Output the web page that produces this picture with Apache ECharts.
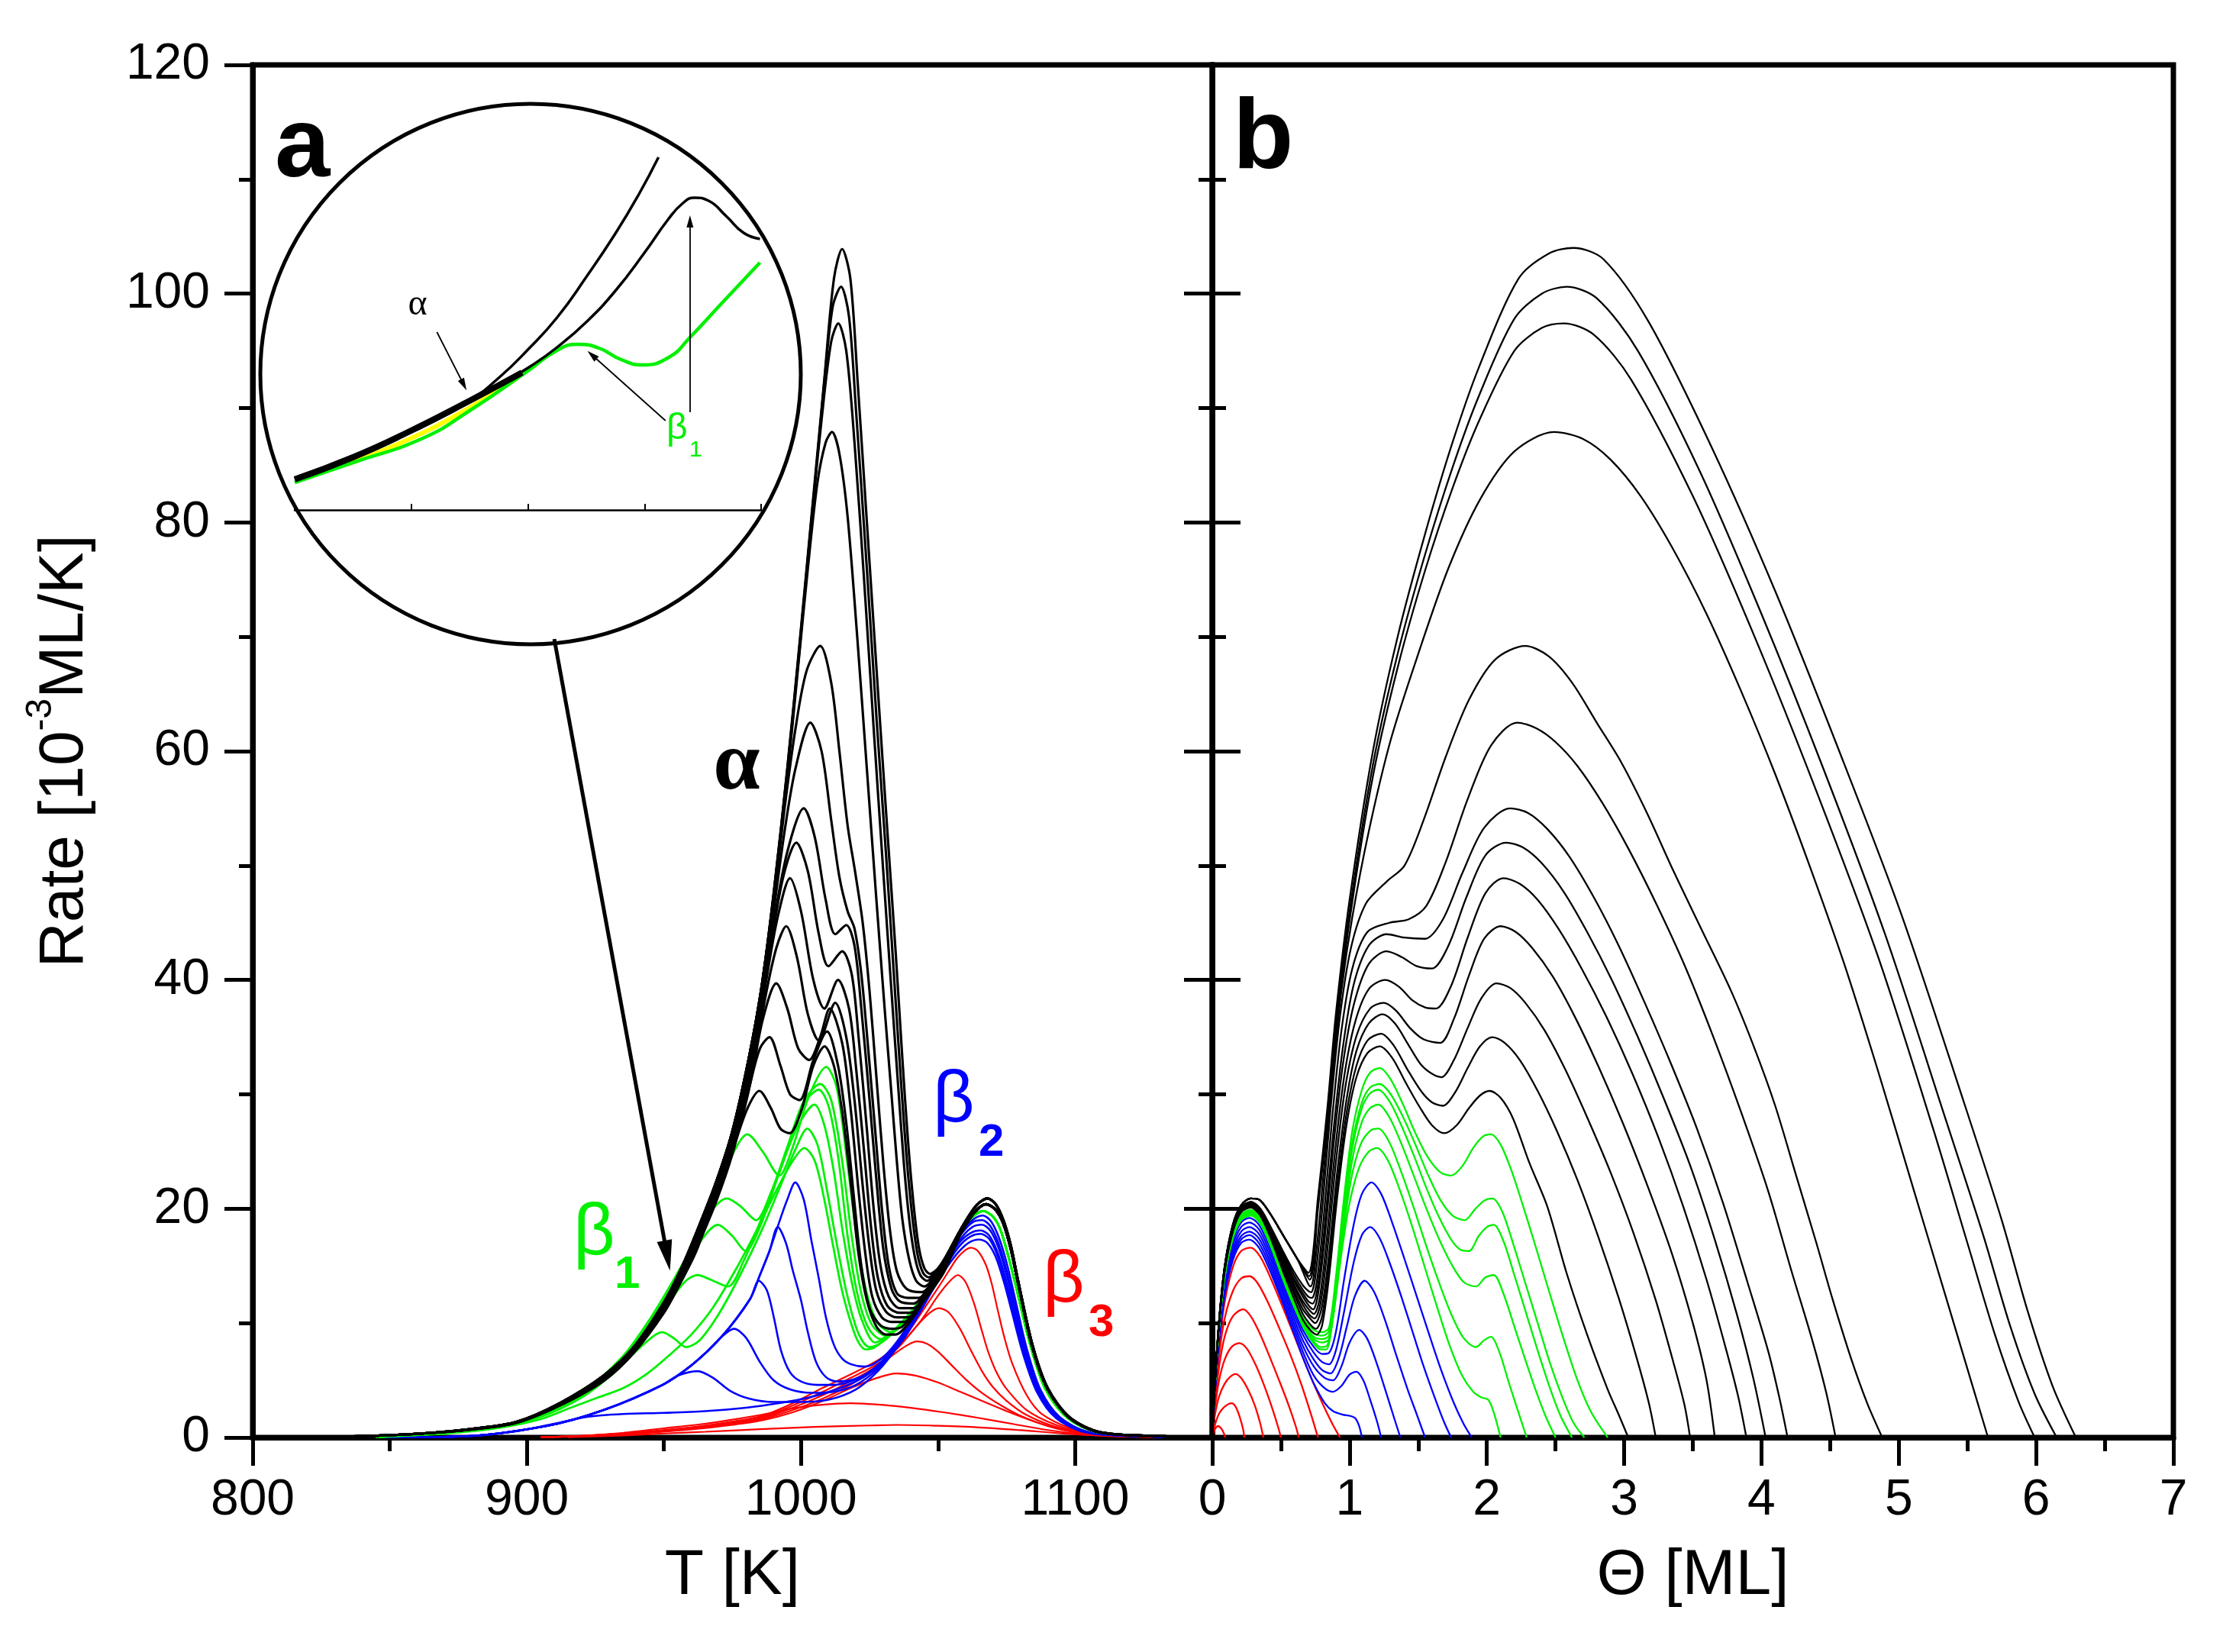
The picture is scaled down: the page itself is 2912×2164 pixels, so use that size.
<!DOCTYPE html>
<html><head><meta charset="utf-8">
<script src="https://cdn.jsdelivr.net/npm/echarts/dist/echarts.min.js"></script>
<style>html,body{margin:0;padding:0;background:#fff}#c{width:2912px;height:2164px}</style>
</head><body><div id="c"></div>
<script>
// ---------- Panel a : rate vs T [K] ----------
const A_R1 = [[915,0.03],[935,0.18],[950,0.35],[965,0.5],[985,0.72],[1005,0.92],[1025,1.05],[1035,1.1],[1050,1.02],[1065,0.88],[1080,0.64],[1095,0.36],[1110,0.16],[1130,0.05],[1150,0.01]];
const A_R2 = [[905,0.03],[920,0.15],[935,0.4],[950,0.8],[965,1.2],[976,1.6],[986,2.0],[997,2.55],[1007,2.85],[1018,3.0],[1030,2.85],[1040,2.6],[1052,2.2],[1065,1.7],[1078,1.15],[1090,0.65],[1100,0.35],[1112,0.12],[1130,0.04],[1150,0.01]];
const A_R3 = [[905,0.02],[920,0.12],[940,0.34],[960,0.7],[975,1.1],[986,1.5],[997,2.2],[1008,3.2],[1018,4.3],[1027,5.15],[1034.8,5.6],[1042,5.4],[1050,4.8],[1058,4.0],[1066,3.2],[1075,2.3],[1085,1.4],[1095,0.7],[1105,0.3],[1120,0.08],[1150,0.01]];
const A_R4 = [[905,0.02],[920,0.12],[940,0.36],[960,0.75],[975,1.15],[986,1.6],[997,2.4],[1008,3.4],[1018,4.6],[1027,6.0],[1034,7.3],[1039,8.1],[1042.3,8.4],[1046,8.2],[1050,7.5],[1055,6.3],[1060,5.1],[1066,3.9],[1073,2.8],[1080,1.9],[1090,1.0],[1100,0.45],[1115,0.12],[1150,0.01]];
const A_R5 = [[905,0.02],[920,0.13],[940,0.4],[960,0.8],[975,1.2],[986,1.7],[997,2.6],[1008,3.7],[1018,4.9],[1028,6.3],[1036,8.0],[1042,9.7],[1047,10.9],[1050.3,11.3],[1054,10.9],[1058,9.5],[1062,7.6],[1066,5.8],[1070,4.4],[1075,3.2],[1082,2.0],[1092,1.0],[1103,0.4],[1120,0.1],[1150,0.01]];
const A_R6 = [[905,0.02],[920,0.15],[940,0.42],[960,0.85],[975,1.3],[986,1.8],[997,2.8],[1008,4.0],[1018,5.2],[1029,6.6],[1037,8.3],[1044,10.3],[1050,12.4],[1054,13.6],[1057.2,14.2],[1060,13.6],[1063,11.8],[1066,9.3],[1068.4,7.4],[1071.5,5.6],[1074.8,4.3],[1082.3,2.4],[1093,1.1],[1103.6,0.45],[1120,0.1],[1150,0.01]];
const A_R7 = [[905,0.02],[920,0.15],[940,0.45],[960,0.9],[975,1.4],[986,1.9],[997,3.0],[1007.6,4.3],[1018,5.5],[1029,6.9],[1035,8.1],[1039.6,9.4],[1045,11.3],[1050.3,13.2],[1054,14.6],[1057,15.7],[1060,16.4],[1062,16.6],[1064.5,16.3],[1067.4,15.1],[1069.5,13.5],[1071.6,11.3],[1074,8.9],[1077,6.5],[1082.3,3.7],[1087.6,2.1],[1098.3,0.8],[1109,0.2],[1130,0.05],[1150,0.01]];

const A_BLUE_EDGE = [[845,0.02],[875,0.08],[907,1.0],[928,2.4],[949.5,4.6],[960,6.3],[971,8.8],[981.4,12.1]];
const A_B1 = [[845,0.02],[875,0.08],[895,0.5],[910,1.2],[922,1.8],[935,2.05],[950,2.15],[965,2.3],[980,2.6],[992,3.0],[1003,3.5],[1014,4.3],[1023,5.3],[1031,6.8],[1038,8.8],[1044,11.2],[1050,13.7],[1056,15.8],[1061,17.0],[1065,17.3],[1068,17.0],[1071,15.8],[1074,13.6],[1077,10.9],[1081,7.3],[1086,4.0],[1093,1.7],[1104,0.45],[1125,0.1],[1150,0.02]];
const A_B2 = A_BLUE_EDGE.slice(0,5).concat([[955,5.4],[962.3,5.8],[968,5.2],[974,4.1],[981,3.4],[990,3.1],[1000,3.1],[1010,3.3],[1020,4.2],[1028,5.8],[1035,7.9],[1041,10.2],[1047,12.8],[1053,15.1],[1058,16.8],[1062,17.6],[1065.5,17.8],[1068.5,17.4],[1071.5,16.0],[1074.5,13.7],[1077.5,10.9],[1081.5,7.2],[1086.5,3.9],[1093.5,1.65],[1104,0.45],[1125,0.1],[1150,0.02]]);
const A_B3 = A_BLUE_EDGE.slice(0,6).concat([[966,7.6],[971,8.8],[975.6,9.5],[980,8.7],[985,6.6],[990,5.0],[996,4.2],[1004,3.9],[1012,4.0],[1020,4.6],[1028,6.0],[1035,8.0],[1041,10.3],[1047,12.9],[1053,15.3],[1058,17.1],[1062,17.9],[1065.5,18.1],[1068.5,17.7],[1071.5,16.3],[1074.5,14.0],[1077.5,11.1],[1081.5,7.4],[1086.5,4.0],[1093.5,1.7],[1104,0.45],[1125,0.1],[1150,0.02]]);
const A_B4 = A_BLUE_EDGE.concat([[984.6,13.7],[987.5,12.9],[990,10.6],[992.7,7.6],[996,5.7],[1000,4.9],[1006,4.6],[1012,4.6],[1018,4.9],[1025,5.7],[1031,7.0],[1037,8.8],[1043,11.2],[1049,13.8],[1054.5,16.0],[1059,17.6],[1062.5,18.4],[1066,18.6],[1069,18.1],[1072,16.6],[1075,14.2],[1078,11.2],[1082,7.4],[1087,4.0],[1094,1.7],[1105,0.45],[1125,0.1],[1150,0.02]]);
const A_B5 = A_BLUE_EDGE.concat([[985,14.2],[988.5,16.3],[991.5,18.4],[994.5,17.0],[997,14.6],[1000,12.0],[1002.5,9.2],[1005.5,6.6],[1009,5.3],[1013,4.9],[1018,5.0],[1024,5.6],[1030,6.8],[1036,8.6],[1042,11.0],[1048,13.7],[1054,16.1],[1058.5,17.8],[1062.5,18.8],[1066,19.0],[1069,18.5],[1072,17.0],[1075,14.6],[1078,11.6],[1082,7.6],[1087,4.1],[1094,1.75],[1105,0.46],[1125,0.1],[1150,0.02]]);
const A_B6 = A_BLUE_EDGE.concat([[985,14.2],[988.5,16.3],[992,18.8],[995,20.8],[997.9,22.3],[1001,20.8],[1003.8,17.2],[1006.5,13.9],[1009,10.6],[1012,8.1],[1015,6.9],[1018.3,6.4],[1023,6.2],[1027,6.5],[1032,7.5],[1038,9.4],[1044,11.8],[1050,14.4],[1055,16.6],[1059.5,18.3],[1063,19.1],[1066.3,19.4],[1069.3,18.9],[1072.3,17.4],[1075.3,15.0],[1078.3,11.9],[1082.3,7.8],[1087.3,4.2],[1094.3,1.8],[1105,0.47],[1125,0.1],[1150,0.02]]);

const A_TAIL_G = [[1050,14.5],[1056,17.0],[1061,18.9],[1066.5,19.8],[1070,19.3],[1072.5,18.3],[1075,16.4],[1078,13.6],[1083.5,8.2],[1089,4.3],[1097,1.75],[1108,0.47],[1130,0.12],[1150,0.03]];
const A_G1 = [[845,0.05],[870,0.35],[890,0.85],[905,1.6],[916,2.6],[926,3.5],[935,4.3],[944,5.6],[952,7.2],[960,9.0],[968,11.4],[976,14.6],[984,18.2],[991,21.6],[996.5,24.0],[1001.2,25.3],[1005,24.2],[1008.5,20.8],[1011.5,17.0],[1015,12.8],[1018.5,9.8],[1021,8.3],[1023.6,7.7],[1027,7.9],[1032,8.9],[1038,10.4],[1044,12.2]].concat(A_TAIL_G);
const A_G2 = [[845,0.05],[870,0.38],[890,0.9],[905,1.8],[920,3.5],[932,5.7],[941,7.8],[949.5,9.2],[954,8.6],[958,7.9],[963,8.5],[970,10.8],[978,14.3],[986,18.3],[993,22.3],[998,25.2],[1002.3,27.0],[1006,25.6],[1009.5,21.6],[1013,17.0],[1016.5,12.8],[1020,9.7],[1022.5,8.4],[1025,7.9],[1030,8.4],[1036,9.8],[1043,11.8]].concat(A_TAIL_G);
const A_G3 = [[845,0.05],[870,0.4],[890,0.95],[905,1.9],[920,3.7],[935,6.7],[945,9.5],[953,12.2],[958,13.7],[962.3,14.2],[967,13.8],[973.4,13.2],[979,15.4],[986,19.4],[993,23.8],[999,27.3],[1004.9,29.1],[1008.5,27.3],[1012,23.2],[1015,18.3],[1018.5,13.6],[1022,10.4],[1027,8.3],[1032,9.0],[1038,10.4],[1044,12.2]].concat(A_TAIL_G);
const A_G4 = [[845,0.05],[870,0.42],[890,0.98],[905,1.95],[920,3.8],[935,6.9],[945,9.9],[955,13.7],[962,16.7],[969.7,18.6],[975,17.6],[979.8,16.3],[985,18.4],[991,22.4],[997,26.5],[1002,29.5],[1006.5,30.4],[1010,29.0],[1013.5,24.6],[1017,17.6],[1020.5,12.6],[1024.5,9.6],[1029,8.6],[1034,9.4],[1040,10.9],[1046,12.9]].concat(A_TAIL_G);
const A_G5 = [[845,0.05],[870,0.42],[890,1.0],[905,2.0],[920,3.85],[935,7.0],[945,10.1],[955,14.1],[963,17.9],[968,20.0],[972.9,20.9],[978,20.2],[983.6,19.0],[989,21.4],[995,25.4],[1001,29.4],[1007,30.9],[1011,29.5],[1015,24.2],[1018.5,17.6],[1022,12.6],[1026,9.8],[1031,8.9],[1036,9.7],[1042,11.4]].concat(A_TAIL_G);
const A_G6 = [[845,0.05],[870,0.43],[890,1.0],[905,2.0],[920,3.9],[935,7.1],[945,10.4],[955,14.4],[963,18.0],[970,21.8],[976,25.2],[980.4,26.5],[986,25.0],[992.1,22.9],[997,25.4],[1003,29.9],[1009.2,32.4],[1013,30.6],[1017,23.8],[1020.5,17.2],[1024,12.6],[1028,10.0],[1033,9.2],[1038,10.1],[1044,12.0]].concat(A_TAIL_G);

const A_LEAD_K = [[830,0.05],[850,0.2],[865,0.4],[880,0.75],[896,1.35],[912,3.0],[928,5.4],[939,7.9],[950,11.8],[956,14.6],[962,18.0],[969,22.3],[975,26.8],[981,33.2],[985.5,39.2]];
const A_TAIL_K_HI = [[1054,16.3],[1059,18.5],[1064,20.3],[1068,20.9],[1071,20.4],[1073.8,19.0],[1076.5,16.8],[1079,13.9],[1084.4,8.1],[1090,4.3],[1098,1.75],[1109,0.47],[1130,0.12],[1150,0.03]];
const A_TAIL_K_LO = [[1058,17.7],[1063,19.6],[1067.5,20.4],[1071,19.9],[1073.8,18.7],[1076.5,16.5],[1079,13.7],[1084.4,7.9],[1090,4.2],[1098,1.7],[1109,0.45],[1130,0.12],[1150,0.03]];
const A_K1 = A_LEAD_K.concat([[990,47.5],[995,58.5],[999.5,69.5],[1004,81],[1008.5,92.5],[1012,101.3],[1015,103.9],[1018,101.3],[1020.6,92.5],[1024.3,79],[1028,65.5],[1031.5,53],[1034.5,42.5],[1037,33],[1039,26],[1041,20.5],[1043,16.6],[1045,14.8],[1047,14.3],[1050,14.8]], A_TAIL_K_HI);
const A_K2 = A_LEAD_K.concat([[990,47.5],[995,58.4],[999.5,69.3],[1004,80.5],[1008,91],[1011.5,98.8],[1014.6,100.6],[1017.5,98],[1020,90],[1024,76],[1027.5,63],[1031,51],[1034,40],[1036.5,31],[1038.5,24.5],[1040.5,19.5],[1042.5,16],[1044.5,14.4],[1046.5,14.0],[1050,14.7]], A_TAIL_K_HI);
const A_K3 = A_LEAD_K.concat([[990,47.4],[995,58.2],[999.5,69],[1003.5,79.5],[1007.5,89],[1011,95.8],[1013.6,97.4],[1016.5,95],[1019.5,87],[1023,75],[1026.5,62],[1030,49.5],[1033,39],[1035.5,30.5],[1037.5,24],[1039.5,19],[1041.5,15.8],[1043.5,14.2],[1046,13.7],[1050,14.6]], A_TAIL_K_HI);
const A_K4 = A_LEAD_K.concat([[990,47.2],[995,57.8],[999,67.5],[1002.5,76],[1006,83.5],[1009,87],[1011.3,87.9],[1014,86],[1017,80.5],[1020.5,70],[1024,58.5],[1027.5,47],[1030.5,37.5],[1033,30],[1035,24],[1037,19],[1039.5,15.5],[1042,13.7],[1045,13.2],[1050,14.5]], A_TAIL_K_HI);
const A_K5 = A_LEAD_K.concat([[990,47],[994,55],[998,62],[1002,67],[1007,69.2],[1011,66],[1014,60],[1017,53.5],[1019.7,49.5],[1022.5,45],[1025,39],[1027.5,31.5],[1030,24],[1032.5,18],[1035,14.5],[1038.5,13],[1044,12.7],[1050,14.4]], A_TAIL_K_HI);
const A_K6 = [[830,0.05],[850,0.2],[865,0.4],[880,0.75],[896,1.35],[912,2.95],[928,5.3],[939,7.8],[950,11.6],[956,14.3],[962,17.7],[969,21.9],[975,26.3],[981,32.5],[985.5,38.5],[990,46],[994,53],[998,58.5],[1003.4,62.5],[1007.5,60],[1011,54],[1014,49],[1017,46],[1019.5,44.5],[1022,40.5],[1024.5,34],[1027,27],[1029.5,20],[1032,15],[1035,12.6],[1039,12.2],[1043,12.2],[1047,13.3],[1052,15.1]].concat(A_TAIL_K_LO);
const A_K7 = [[830,0.05],[850,0.2],[865,0.4],[880,0.74],[896,1.33],[912,2.92],[928,5.25],[939,7.7],[950,11.5],[956,14.2],[962,17.5],[969,21.6],[975,26],[981,32],[985,37.8],[990,45],[995,51.2],[1001,55],[1005,52.5],[1009,47],[1012.5,44],[1016.5,44.8],[1019.5,43],[1022,37.5],[1025,29.5],[1027.5,22.5],[1030,16.5],[1033,13],[1036,11.9],[1041,11.7],[1046,12.9],[1052,15]].concat(A_TAIL_K_LO);
const A_K8 = [[830,0.05],[850,0.2],[865,0.4],[880,0.73],[896,1.32],[912,2.9],[928,5.2],[939,7.65],[950,11.4],[956,14],[962,17.3],[969,21.4],[975,25.8],[981,31.5],[985,37],[989,43],[993.5,49],[998.3,52],[1002.5,49.5],[1006.5,44],[1010,41.2],[1015,42.5],[1018.5,40.5],[1021,35],[1024,27],[1026.5,20],[1029,15],[1032,12.3],[1036,11.3],[1041,11.3],[1046,12.8],[1052,14.9]].concat(A_TAIL_K_LO);
const A_K9 = [[830,0.05],[850,0.2],[865,0.4],[880,0.73],[896,1.31],[912,2.88],[928,5.15],[939,7.6],[950,11.3],[956,13.9],[962,17.1],[969,21.2],[975,25.5],[979,29],[983,33.5],[987,39.5],[991.5,45.5],[996,48.9],[1000,46],[1004.5,40],[1008.5,37.5],[1013.5,40],[1017.5,37.5],[1020,32.5],[1023,25],[1025.5,18.5],[1028,14],[1031.5,11.5],[1036,10.9],[1040,10.9],[1046,12.7],[1052,14.8]].concat(A_TAIL_K_LO);
const A_K10 = [[830,0.05],[850,0.2],[865,0.4],[880,0.72],[896,1.3],[912,2.86],[928,5.1],[939,7.55],[950,11.2],[956,13.8],[962,17],[969,21],[975,25.3],[979,28.7],[983,33],[987,38.5],[991,42.8],[994.6,44.7],[998.5,42],[1002.5,37],[1006.5,34.7],[1012.5,38],[1016.5,35],[1019.5,29.5],[1022.5,22],[1025,16.5],[1027.5,12.8],[1031,11],[1035,10.5],[1039,10.5],[1045,12.3],[1052,14.7]].concat(A_TAIL_K_LO);
const A_K11 = [[830,0.05],[850,0.2],[865,0.4],[880,0.72],[896,1.29],[912,2.84],[928,5.05],[939,7.5],[950,11.1],[956,13.7],[962,16.8],[969,20.8],[975,25],[979,28.4],[982,31.5],[986,36.5],[991,39.7],[995,37.5],[999,34],[1003,33],[1007,35],[1010.5,37.5],[1015,34.5],[1018,29],[1021,21.5],[1023.5,16],[1026,12.3],[1029.5,10.5],[1033,10.1],[1037.5,10.1],[1044,11.9],[1052,14.6]].concat(A_TAIL_K_LO);
const A_K12 = [[830,0.05],[850,0.2],[865,0.4],[880,0.71],[896,1.28],[912,2.82],[928,5.0],[939,7.45],[950,11],[956,13.6],[962,16.6],[969,20.6],[975,24.8],[981,30.5],[985,34],[988.5,35],[992.5,32.5],[996,30],[999.5,29.5],[1004.5,33],[1009.5,35.5],[1013.5,32.5],[1016.5,27.5],[1019.5,20.5],[1022,15],[1025,11.3],[1029,9.8],[1033,9.5],[1037,9.7],[1044,11.8],[1052,14.5]].concat(A_TAIL_K_LO);
const A_K13 = [[830,0.05],[850,0.2],[865,0.4],[880,0.7],[896,1.27],[912,2.8],[928,4.95],[939,7.4],[950,10.9],[956,13.5],[962,16.4],[970,21.8],[976,25.8],[980.5,28.8],[984.8,30.3],[989,28.8],[992.5,27],[995.8,26.6],[1000,28.5],[1004.5,32.5],[1008.6,34.2],[1012,32.5],[1015,28.5],[1018,22.5],[1021,16],[1024,12],[1027.5,9.7],[1031,9.0],[1034.5,9.0],[1039,9.9],[1045,12],[1052,14.4]].concat(A_TAIL_K_LO);

// ---------- Panel b : rate vs coverage Θ [ML] ----------
const B_R1 = [[0,0],[0.015,0.6],[0.04,1.0],[0.065,0.8],[0.085,0.35],[0.094,0]];
const B_R2 = [[0,0],[0.02,1.1],[0.05,2.1],[0.09,2.7],[0.14,3.0],[0.17,2.7],[0.2,1.8],[0.225,0.7],[0.233,0]];
const B_R3 = [[0,0],[0.02,2.0],[0.05,3.6],[0.09,4.7],[0.13,5.3],[0.17,5.55],[0.21,5.2],[0.26,4.2],[0.31,2.8],[0.35,1.2],[0.372,0]];
const B_R4 = [[0,0],[0.02,2.6],[0.05,5.0],[0.09,6.8],[0.14,7.9],[0.196,8.25],[0.25,7.8],[0.31,6.5],[0.37,4.8],[0.43,2.8],[0.48,0.9],[0.5,0]];
const B_R5 = [[0,0],[0.02,3.0],[0.05,6.2],[0.09,8.8],[0.15,10.6],[0.224,11.2],[0.28,10.6],[0.35,9.0],[0.42,7.0],[0.49,4.9],[0.56,2.7],[0.61,0.9],[0.63,0]];
const B_R6 = [[0,0],[0.02,3.4],[0.05,7.2],[0.09,10.4],[0.15,12.8],[0.21,13.9],[0.27,14.1],[0.33,13.5],[0.41,11.7],[0.49,9.5],[0.57,7.2],[0.65,4.6],[0.72,2.0],[0.77,0]];
const B_R7 = [[0,0],[0.02,3.8],[0.05,8.0],[0.09,11.8],[0.15,14.9],[0.21,16.3],[0.28,16.6],[0.35,15.8],[0.43,13.8],[0.52,11.2],[0.61,8.5],[0.7,5.8],[0.79,3.3],[0.87,1.3],[0.93,0]];

const B_B1 = [[0,0],[0.02,4],[0.05,8.4],[0.09,12.4],[0.15,15.5],[0.21,17],[0.27,17.3],[0.34,16.6],[0.42,14.6],[0.5,12.2],[0.58,9.6],[0.66,7],[0.74,4.7],[0.82,3.0],[0.88,2.3],[0.95,2.0],[1.0,1.9],[1.04,1.7],[1.07,1.0],[1.09,0]];
const B_B2 = [[0,0],[0.02,4.1],[0.05,8.6],[0.09,12.6],[0.15,15.8],[0.21,17.3],[0.27,17.7],[0.34,17],[0.42,15],[0.5,12.5],[0.58,10],[0.66,7.5],[0.74,5.4],[0.82,4.3],[0.88,4.0],[0.94,4.5],[1.0,5.5],[1.05,5.75],[1.1,5.0],[1.15,3.3],[1.2,1.4],[1.23,0]];
const B_B3 = [[0,0],[0.02,4.2],[0.05,8.8],[0.09,12.9],[0.15,16.1],[0.21,17.6],[0.27,18.0],[0.34,17.4],[0.42,15.4],[0.5,12.9],[0.58,10.4],[0.66,8],[0.74,6.2],[0.82,5.2],[0.88,5.0],[0.94,6.2],[1.0,8.3],[1.07,9.4],[1.13,8.6],[1.2,6.4],[1.27,3.8],[1.33,1.5],[1.37,0]];
const B_B4 = [[0,0],[0.02,4.3],[0.05,9.0],[0.09,13.2],[0.15,16.4],[0.21,18.0],[0.27,18.4],[0.34,17.8],[0.42,15.8],[0.5,13.3],[0.58,10.8],[0.66,8.5],[0.74,6.8],[0.8,5.9],[0.86,5.6],[0.92,6.9],[0.98,9.7],[1.04,12.4],[1.11,13.7],[1.18,12.7],[1.26,10.2],[1.34,7.2],[1.42,4.3],[1.49,2],[1.55,0]];
const B_B5 = [[0,0],[0.02,4.4],[0.05,9.2],[0.09,13.5],[0.15,16.8],[0.21,18.4],[0.27,18.8],[0.34,18.2],[0.42,16.2],[0.5,13.7],[0.58,11.2],[0.66,9],[0.74,7.4],[0.8,6.6],[0.85,6.4],[0.9,7.6],[0.96,11],[1.03,15.3],[1.09,17.7],[1.15,18.4],[1.22,17.4],[1.3,15],[1.38,12.2],[1.46,9.2],[1.54,6.2],[1.62,3.5],[1.69,1.3],[1.74,0]];
const B_B6 = [[0,0],[0.02,4.5],[0.05,9.4],[0.09,13.8],[0.15,17.2],[0.21,18.8],[0.27,19.2],[0.34,18.6],[0.42,16.6],[0.5,14.1],[0.58,11.6],[0.66,9.4],[0.74,7.9],[0.8,7.3],[0.85,7.4],[0.9,9.2],[0.96,13.8],[1.03,18.6],[1.09,21.3],[1.16,22.3],[1.23,21.3],[1.31,18.8],[1.4,15.6],[1.49,12.3],[1.58,9],[1.67,5.8],[1.76,3],[1.83,1.2],[1.89,0]];

const B_G1 = [[0,0],[0.02,4.6],[0.05,9.6],[0.09,14],[0.15,17.4],[0.21,19],[0.28,19.4],[0.35,18.7],[0.43,16.6],[0.51,14],[0.59,11.6],[0.67,9.5],[0.74,8.2],[0.79,7.7],[0.83,7.7],[0.88,10.5],[0.94,16],[1.0,20.5],[1.07,23.6],[1.14,25],[1.2,25.3],[1.28,24.2],[1.37,21.5],[1.46,18.3],[1.55,14.8],[1.64,11.3],[1.73,8],[1.82,5.4],[1.9,4],[1.96,3.5],[2.01,3.3],[2.05,2.2],[2.1,0]];
const B_G2 = [[0,0],[0.02,4.6],[0.05,9.6],[0.09,14],[0.15,17.5],[0.21,19.1],[0.28,19.5],[0.35,18.8],[0.43,16.7],[0.51,14.1],[0.59,11.7],[0.67,9.6],[0.74,8.4],[0.79,7.9],[0.84,8.1],[0.89,11.5],[0.95,17.5],[1.01,22.5],[1.08,25.6],[1.15,26.8],[1.21,27.0],[1.29,25.8],[1.38,23.1],[1.47,20],[1.56,16.7],[1.65,13.6],[1.74,10.8],[1.83,8.7],[1.92,7.9],[1.98,8.5],[2.03,8.8],[2.09,7.5],[2.16,4.8],[2.23,2.2],[2.29,0]];
const B_G3 = [[0,0],[0.02,4.6],[0.05,9.7],[0.09,14.1],[0.15,17.6],[0.21,19.2],[0.28,19.6],[0.35,18.9],[0.43,16.8],[0.51,14.2],[0.59,11.8],[0.67,9.8],[0.74,8.6],[0.8,8.3],[0.85,8.6],[0.9,12.5],[0.96,19],[1.02,24.3],[1.09,27.6],[1.15,28.8],[1.21,29.1],[1.29,28],[1.38,25.6],[1.47,22.8],[1.56,20],[1.65,17.4],[1.74,15.2],[1.83,13.6],[1.92,13.2],[1.99,14],[2.05,14.2],[2.12,12.6],[2.2,9.7],[2.28,6.8],[2.36,4],[2.43,1.8],[2.5,0]];
const B_G4 = [[0,0],[0.02,4.7],[0.05,9.7],[0.09,14.2],[0.15,17.7],[0.21,19.3],[0.28,19.7],[0.35,19],[0.43,16.9],[0.51,14.3],[0.59,11.9],[0.67,9.9],[0.74,8.8],[0.8,8.6],[0.85,8.9],[0.9,13],[0.96,19.8],[1.02,25.3],[1.09,28.8],[1.15,30.1],[1.21,30.4],[1.29,29.4],[1.38,27.2],[1.47,24.6],[1.56,21.8],[1.65,19.3],[1.74,17.3],[1.81,16.4],[1.87,16.3],[1.94,17.6],[2.0,18.4],[2.05,18.6],[2.12,17.2],[2.2,14.2],[2.28,11.1],[2.37,7.6],[2.46,4.3],[2.54,1.8],[2.62,0]];
const B_G5 = [[0,0],[0.02,4.7],[0.05,9.8],[0.09,14.3],[0.15,17.8],[0.21,19.4],[0.28,19.8],[0.35,19.1],[0.43,17],[0.51,14.4],[0.59,12],[0.67,10.1],[0.74,9.1],[0.8,8.9],[0.85,9.3],[0.9,13.5],[0.96,20.3],[1.02,25.8],[1.09,29.3],[1.15,30.6],[1.22,30.9],[1.3,30],[1.39,28],[1.48,25.6],[1.57,23],[1.66,20.8],[1.75,19.4],[1.84,19.0],[1.91,19.9],[1.98,20.7],[2.04,20.9],[2.11,19.8],[2.19,17],[2.28,13.5],[2.37,10],[2.46,6.5],[2.55,3.5],[2.63,1.3],[2.71,0]];
const B_G6 = [[0,0],[0.02,4.8],[0.05,9.9],[0.09,14.4],[0.15,17.9],[0.21,19.5],[0.28,19.9],[0.35,19.2],[0.43,17.1],[0.51,14.5],[0.59,12.1],[0.67,10.3],[0.74,9.4],[0.8,9.2],[0.85,9.6],[0.9,14],[0.96,21],[1.02,26.8],[1.09,30.4],[1.15,31.9],[1.22,32.3],[1.3,31.3],[1.39,29.1],[1.48,26.6],[1.57,24.5],[1.66,23.2],[1.74,22.9],[1.82,23.7],[1.9,25.3],[1.97,26.3],[2.03,26.5],[2.1,25.6],[2.18,23.3],[2.27,20],[2.36,16.5],[2.46,12.5],[2.56,8.6],[2.66,5],[2.76,2.2],[2.88,0]];

const B_HEAD_K = [[0,0],[0.02,4.9],[0.05,10.2],[0.09,14.9],[0.15,18.6],[0.21,20.3],[0.28,20.9],[0.34,20.8],[0.42,19.6],[0.52,17.6],[0.62,15.6]];
const B_K1 = B_HEAD_K.concat([[0.70,14.4],[0.77,21],[0.84,29],[0.9,37],[1.0,47],[1.17,60],[1.35,70],[1.55,79],[1.75,87],[1.94,93.5],[2.23,101.3],[2.45,103.5],[2.63,104],[2.85,103],[3.18,97.5],[3.64,86.5],[4.10,74],[4.56,60.2],[5.02,45.7],[5.48,29.1],[5.75,19],[5.94,11],[6.12,4.5],[6.29,0]]);
const B_K2 = B_HEAD_K.concat([[0.705,14.1],[0.77,20.5],[0.84,28.5],[0.9,36.3],[1.0,46],[1.17,58.8],[1.35,68.5],[1.55,77.2],[1.75,84.8],[1.94,91],[2.2,97.8],[2.4,100],[2.58,100.6],[2.8,99.6],[3.1,95],[3.55,84.5],[4.0,72],[4.45,58.5],[4.9,44],[5.35,27.5],[5.62,17.5],[5.81,9.8],[5.99,3.8],[6.15,0]]);
const B_K3 = B_HEAD_K.concat([[0.71,13.8],[0.77,20],[0.84,28],[0.9,35.5],[1.0,45.2],[1.17,57.8],[1.35,67.3],[1.55,75.8],[1.75,83],[1.94,88.8],[2.2,95],[2.4,97],[2.56,97.4],[2.78,96.4],[3.05,92.5],[3.5,82.3],[3.95,70],[4.4,56.5],[4.85,42],[5.25,27],[5.5,17],[5.7,9],[5.87,3.2],[5.99,0]]);
const B_K4 = B_HEAD_K.concat([[0.715,13.2],[0.76,16.5],[0.81,23],[0.87,31],[0.94,39],[1.02,45.5],[1.14,53],[1.3,61],[1.5,68.5],[1.72,76],[1.95,82],[2.2,86.2],[2.49,87.9],[2.7,87.3],[2.9,85.5],[3.12,82.3],[3.35,77.8],[3.6,72],[3.85,65.3],[4.1,58],[4.35,50],[4.6,41.5],[4.85,32],[5.1,22],[5.35,12],[5.55,4],[5.65,0]]);
const B_K5 = [[0,0],[0.02,4.9],[0.05,10.2],[0.09,14.8],[0.15,18.4],[0.21,20.1],[0.28,20.6],[0.35,20],[0.43,18.3],[0.51,16.4],[0.59,14.6],[0.66,13.3],[0.7,12.8],[0.72,12.7],[0.75,14],[0.8,19.8],[0.86,28.5],[0.93,36.8],[1.01,42.8],[1.12,46.7],[1.27,48.6],[1.4,50],[1.54,54],[1.7,59.5],[1.87,64.5],[2.06,68],[2.28,69.2],[2.45,68.3],[2.62,66],[2.8,62.5],[2.98,59],[3.17,54.5],[3.36,49.5],[3.56,44.5],[3.78,39],[3.95,34],[4.1,29],[4.25,23],[4.4,17],[4.52,12],[4.65,7],[4.77,3],[4.88,0]];
const B_K6 = [[0,0],[0.02,4.9],[0.05,10.2],[0.09,14.8],[0.15,18.4],[0.21,20.1],[0.28,20.6],[0.35,20],[0.43,18.2],[0.51,16.2],[0.59,14.3],[0.66,12.9],[0.7,12.3],[0.725,12.2],[0.76,13.5],[0.81,19],[0.87,27.5],[0.94,35.5],[1.02,41],[1.13,44.2],[1.29,45],[1.43,45.3],[1.56,46.5],[1.7,50.3],[1.86,55.8],[2.03,60.5],[2.22,62.5],[2.36,62],[2.5,60.8],[2.66,58.7],[2.84,55.5],[3.03,51.5],[3.24,46.5],[3.45,41],[3.65,35],[3.85,28.5],[4.05,21.5],[4.22,14.5],[4.37,8.5],[4.47,4],[4.54,0]];
const B_K7 = [[0,0],[0.02,4.9],[0.05,10.2],[0.09,14.8],[0.15,18.4],[0.21,20.1],[0.28,20.5],[0.35,19.9],[0.43,18.1],[0.51,16],[0.59,14],[0.66,12.6],[0.7,11.9],[0.73,11.7],[0.77,13.3],[0.82,18.6],[0.88,26.5],[0.95,34],[1.03,39.6],[1.14,43],[1.27,44],[1.4,43.7],[1.55,43.6],[1.68,45.3],[1.82,49.3],[1.98,53.3],[2.17,55],[2.3,54.6],[2.44,53.2],[2.6,50.8],[2.78,47.2],[2.96,43],[3.15,38],[3.34,32.7],[3.53,27],[3.72,20.5],[3.9,13.5],[4.05,7.5],[4.13,3.5],[4.19,0]];
const B_K8 = [[0,0],[0.02,4.9],[0.05,10.1],[0.09,14.7],[0.15,18.3],[0.21,20],[0.28,20.5],[0.35,19.8],[0.43,18],[0.51,15.8],[0.59,13.8],[0.66,12.3],[0.705,11.5],[0.735,11.2],[0.77,12.5],[0.82,17.5],[0.88,25.2],[0.95,32.5],[1.03,37.8],[1.14,41.4],[1.27,42.5],[1.38,42],[1.49,41.2],[1.6,41],[1.72,43],[1.85,47.2],[1.99,50.9],[2.14,52],[2.26,51.6],[2.4,50.2],[2.56,47.7],[2.73,44.2],[2.91,40],[3.1,35],[3.29,29.6],[3.48,23.8],[3.66,17.3],[3.82,10.8],[3.94,5.2],[4.03,0]];
const B_K9 = [[0,0],[0.02,4.9],[0.05,10.1],[0.09,14.7],[0.15,18.3],[0.21,20],[0.28,20.4],[0.35,19.8],[0.43,17.9],[0.51,15.6],[0.59,13.5],[0.66,11.9],[0.71,11.1],[0.74,10.8],[0.78,12],[0.83,16.9],[0.89,24.5],[0.96,31.5],[1.04,36.3],[1.14,39.2],[1.26,40],[1.36,39.4],[1.46,38.2],[1.55,37.6],[1.63,37.5],[1.74,39.5],[1.86,43.7],[1.99,47.6],[2.12,48.9],[2.24,48.4],[2.37,47],[2.52,44.5],[2.69,41],[2.87,36.8],[3.06,31.8],[3.25,26.2],[3.43,20.2],[3.6,13.8],[3.74,7.8],[3.83,3.6],[3.89,0]];
const B_K10 = [[0,0],[0.02,4.9],[0.05,10.1],[0.09,14.7],[0.15,18.3],[0.21,20],[0.28,20.4],[0.35,19.7],[0.43,17.8],[0.51,15.4],[0.59,13.3],[0.66,11.6],[0.71,10.7],[0.745,10.4],[0.79,11.8],[0.84,16.6],[0.9,24],[0.97,30.7],[1.05,35.1],[1.15,37.5],[1.25,38],[1.34,37.3],[1.44,35.8],[1.54,34.8],[1.66,34.5],[1.76,36.6],[1.87,40.4],[1.98,43.6],[2.1,44.7],[2.21,44.2],[2.33,42.8],[2.48,40.3],[2.64,36.8],[2.81,32.5],[2.99,27.5],[3.17,22],[3.35,16],[3.5,10],[3.6,5],[3.66,0]];
const B_K11 = [[0,0],[0.02,4.9],[0.05,10],[0.09,14.6],[0.15,18.2],[0.21,19.9],[0.28,20.3],[0.35,19.6],[0.43,17.6],[0.51,15.2],[0.59,13],[0.66,11.2],[0.72,10.3],[0.75,10],[0.8,11.5],[0.85,16],[0.91,23.2],[0.98,29.7],[1.05,33.8],[1.14,36.2],[1.24,37],[1.33,36.2],[1.43,34.3],[1.52,32.6],[1.6,31.8],[1.67,31.5],[1.76,33],[1.86,35.8],[1.96,38.4],[2.07,39.7],[2.17,39.3],[2.28,38],[2.42,35.6],[2.57,32.2],[2.73,28],[2.9,23.2],[3.07,17.8],[3.23,12],[3.36,6.5],[3.44,2.8],[3.48,0]];
const B_K12 = [[0,0],[0.02,4.8],[0.05,10],[0.09,14.6],[0.15,18.1],[0.21,19.8],[0.28,20.2],[0.35,19.5],[0.43,17.5],[0.51,15],[0.59,12.7],[0.66,10.8],[0.72,9.8],[0.755,9.5],[0.8,10.6],[0.85,15],[0.91,22],[0.98,28.5],[1.05,32.5],[1.13,34.7],[1.23,35.3],[1.32,34.3],[1.42,32.2],[1.52,30.3],[1.6,29.3],[1.68,29],[1.77,30.2],[1.86,32.3],[1.95,34.2],[2.04,35],[2.13,34.5],[2.24,33],[2.37,30.3],[2.51,26.8],[2.66,22.5],[2.81,17.6],[2.96,12.2],[3.09,7],[3.18,3],[3.23,0]];
const B_K13 = [[0,0],[0.02,4.8],[0.05,10],[0.09,14.5],[0.15,18],[0.21,19.7],[0.28,20.1],[0.35,19.4],[0.43,17.3],[0.51,14.7],[0.59,12.3],[0.66,10.3],[0.72,9.3],[0.76,9.0],[0.8,9.8],[0.85,14],[0.91,21],[0.98,27.5],[1.05,31.5],[1.13,33.6],[1.22,34.2],[1.31,33.2],[1.41,31],[1.51,28.9],[1.6,27.3],[1.69,26.6],[1.78,27.3],[1.87,28.8],[1.95,29.9],[2.02,30.3],[2.1,29.7],[2.19,27.9],[2.31,24],[2.44,20.2],[2.58,14.4],[2.73,9],[2.88,4.2],[2.96,2],[3.03,0]];

// ---------- Inset (magnified onset of the leading edge, arbitrary units) ----------
const I_UPPER = [[0,0.42],[0.5,0.71],[0.96,1.03],[1.51,1.45],[1.75,1.73],[2.0,2.1],[2.25,2.52],[2.5,3.05],[2.75,3.62],[2.95,4.13],[3.12,4.62]];
const I_MIDDLE = [[0,0.42],[0.5,0.71],[0.96,1.03],[1.51,1.45],[1.8,1.68],[2.02,1.88],[2.25,2.13],[2.5,2.46],[2.75,2.87],[3.0,3.37],[3.2,3.8],[3.33,4.02],[3.43,4.09],[3.55,4.05],[3.7,3.85],[3.85,3.63],[3.99,3.55]];
const I_BAND = [[0,0.40],[0.5,0.69],[0.96,1.01],[1.5,1.43],[1.95,1.80]];
const I_YELLOW = [[0.45,0.60],[1.0,0.94],[1.5,1.34],[1.9,1.72]];
const I_GREEN = [[0,0.36],[0.5,0.62],[1.10,0.94],[1.51,1.31],[2.0,1.82],[2.25,2.09],[2.43,2.17],[2.61,2.12],[2.80,1.97],[2.98,1.90],[3.21,2.00],[3.39,2.26],[3.67,2.72],[3.99,3.24]];

// ---------- Axis ticks ----------
const T_TICKS = {min:800, max:1150, major:100, minor:50};
const THETA_TICKS = {min:0, max:7, major:1};
const RATE_TICKS = {min:0, max:120, major:20};

const RED='#ff0000', BLUE='#0000ff', GREEN='#00f000', BLACK='#000000';
const FONT='"Liberation Sans", Arial, sans-serif';

const chart = echarts.init(document.getElementById('c'), null, {renderer:'canvas'});

function ln(data, color, width, xi, yi, extra){
  return Object.assign({type:'line', data:data, xAxisIndex:xi, yAxisIndex:yi, showSymbol:false, symbol:'none',
    smooth:0.3, silent:true, animation:false, clip:true, lineStyle:{color:color, width:width}, itemStyle:{color:color}}, extra||{});
}
const series = [];
[A_R1,A_R2,A_R3,A_R4,A_R5,A_R6,A_R7].forEach(d=>series.push(ln(d,RED,2.2,0,0)));
[A_B1,A_B2,A_B3,A_B4,A_B5,A_B6].forEach(d=>series.push(ln(d,BLUE,2.6,0,0)));
[A_G1,A_G2,A_G3,A_G4,A_G5,A_G6].forEach(d=>series.push(ln(d,GREEN,2.8,0,0)));
[A_K13,A_K12,A_K11,A_K10,A_K9,A_K8,A_K7,A_K6,A_K5,A_K4,A_K3,A_K2].forEach(d=>series.push(ln(d,BLACK,3.2,0,0)));
series.push(ln(A_K1,BLACK,3.2,0,0,{markLine:{silent:true, animation:false, symbol:['none','triangle'], symbolSize:[1,22],
  lineStyle:{color:BLACK, width:5, type:'solid'}, label:{show:false}, emphasis:{disabled:true},
  data:[[{coord:[910.0,69.8]},{coord:[951.2,15.9], symbolSize:[20,40]}]]}}));

[B_R1,B_R2,B_R3,B_R4,B_R5,B_R6,B_R7].forEach(d=>series.push(ln(d,RED,2.3,2,2)));
[B_B1,B_B2,B_B3,B_B4,B_B5,B_B6].forEach(d=>series.push(ln(d,BLUE,2.3,2,2)));
[B_G1,B_G2,B_G3,B_G4,B_G5,B_G6].forEach(d=>series.push(ln(d,GREEN,2.3,2,2)));
[B_K13,B_K12,B_K11,B_K10,B_K9,B_K8,B_K7,B_K6,B_K5,B_K4,B_K3,B_K2,B_K1].forEach(d=>series.push(ln(d,BLACK,2.3,2,2)));

series.push(ln(I_YELLOW,'#ffff00',6,3,3,{smooth:0.5}));
series.push(ln(I_GREEN,GREEN,4.5,3,3,{smooth:0.5}));
series.push(ln(I_BAND,BLACK,8,3,3,{smooth:0.5}));
series.push(ln(I_UPPER,BLACK,3.5,3,3,{smooth:0.5}));
series.push(ln(I_MIDDLE,BLACK,3.5,3,3,{smooth:0.5, markLine:{silent:true, animation:false, symbol:['none','triangle'], symbolSize:12,
  lineStyle:{color:BLACK, width:1.8, type:'solid'}, label:{show:false}, emphasis:{disabled:true},
  data:[
    [{coord:[1.22,2.33]},{coord:[1.45,1.64], symbolSize:[9,16]}],
    [{coord:[3.18,1.17]},{coord:[2.55,2.03], symbolSize:[9,16]}],
    [{coord:[3.39,1.28]},{coord:[3.39,3.78], symbolSize:[9,16]}]
  ]}}));

function txt(x,y,text,font,color,align){
  return {type:'text', x:x, y:y, silent:true, z:50, style:{text:text, font:font, fill:color,
    align:align||'left', textAlign:align||'left', verticalAlign:'middle', textVerticalAlign:'middle'}};
}
const plain = v => String(v);

const option = {
  backgroundColor:'#ffffff',
  animation:false,
  grid:[
    {left:331, top:85, width:1257, height:1798, show:true, borderColor:BLACK, borderWidth:7, backgroundColor:'rgba(0,0,0,0)', containLabel:false, outerBoundsMode:'none'},
    {left:1588, top:85, width:1259, height:1798, show:true, borderColor:BLACK, borderWidth:7, backgroundColor:'rgba(0,0,0,0)', containLabel:false, outerBoundsMode:'none'},
    {left:386, top:118, width:611, height:550, show:false, containLabel:false, outerBoundsMode:'none'}
  ],
  xAxis:[
    {gridIndex:0, type:'value', position:'bottom', min:T_TICKS.min, max:T_TICKS.max, interval:T_TICKS.minor,
      axisLine:{show:true, onZero:false, lineStyle:{color:BLACK, width:7}}, axisTick:{show:true, inside:false, length:18, lineStyle:{color:BLACK,width:5}},
      axisLabel:{show:false}, splitLine:{show:false}},
    {gridIndex:0, type:'value', position:'bottom', min:T_TICKS.min, max:T_TICKS.max, interval:T_TICKS.major,
      axisLine:{show:false, onZero:false}, axisTick:{show:true, inside:false, length:37, lineStyle:{color:BLACK,width:5}},
      axisLabel:{show:true, margin:50, fontSize:66, fontFamily:FONT, color:BLACK, showMaxLabel:false, formatter:plain},
      splitLine:{show:false}, name:'T [K]', nameLocation:'middle', nameGap:140,
      nameTextStyle:{fontSize:84, fontFamily:FONT, color:BLACK}},
    {gridIndex:1, type:'value', position:'bottom', min:THETA_TICKS.min, max:THETA_TICKS.max, interval:THETA_TICKS.major,
      axisLine:{show:true, onZero:false, lineStyle:{color:BLACK, width:7}}, axisTick:{show:true, inside:false, length:37, lineStyle:{color:BLACK,width:5}},
      minorTick:{show:true, splitNumber:2, length:18, lineStyle:{color:BLACK,width:5}},
      axisLabel:{show:true, margin:50, fontSize:66, fontFamily:FONT, color:BLACK, formatter:plain},
      splitLine:{show:false}, minorSplitLine:{show:false}, name:'\u0398 [ML]', nameLocation:'middle', nameGap:140,
      nameTextStyle:{fontSize:84, fontFamily:FONT, color:BLACK}},
    {gridIndex:2, type:'value', position:'bottom', min:0, max:4, interval:1,
      axisLine:{show:true, onZero:false, lineStyle:{color:BLACK, width:2.5}}, axisTick:{show:true, inside:true, length:8, lineStyle:{color:BLACK,width:2}},
      axisLabel:{show:false}, splitLine:{show:false}}
  ],
  yAxis:[
    {gridIndex:0, type:'value', position:'left', min:RATE_TICKS.min, max:RATE_TICKS.max, interval:RATE_TICKS.major,
      axisLine:{show:true, onZero:false, lineStyle:{color:BLACK, width:7}}, axisTick:{show:true, inside:false, length:37, lineStyle:{color:BLACK,width:5}},
      minorTick:{show:true, splitNumber:2, length:18, lineStyle:{color:BLACK,width:5}},
      axisLabel:{show:true, margin:56, fontSize:66, fontFamily:FONT, color:BLACK, formatter:plain},
      splitLine:{show:false}, minorSplitLine:{show:false},
      name:'{n|Rate [10}{s|-3}{n|ML/K]}', nameLocation:'middle', nameGap:205,
      nameTextStyle:{fontSize:82, fontFamily:FONT, color:BLACK,
        rich:{n:{fontSize:82, fontFamily:FONT, color:BLACK, verticalAlign:'bottom'},
              s:{fontSize:48, fontFamily:FONT, color:BLACK, verticalAlign:'bottom', padding:[0,0,48,0]}}}},
    {gridIndex:0, type:'value', position:'right', min:RATE_TICKS.min, max:RATE_TICKS.max, interval:RATE_TICKS.major,
      axisLine:{show:true, onZero:false, lineStyle:{color:BLACK, width:7}}, axisTick:{show:true, inside:true, length:37, lineStyle:{color:BLACK,width:5}},
      minorTick:{show:true, splitNumber:2, length:18, lineStyle:{color:BLACK,width:5}},
      axisLabel:{show:false}, splitLine:{show:false}, minorSplitLine:{show:false}},
    {gridIndex:1, type:'value', position:'left', min:RATE_TICKS.min, max:RATE_TICKS.max, interval:RATE_TICKS.major,
      axisLine:{show:true, onZero:false, lineStyle:{color:BLACK, width:7}}, axisTick:{show:true, inside:true, length:37, lineStyle:{color:BLACK,width:5}},
      minorTick:{show:true, splitNumber:2, length:18, lineStyle:{color:BLACK,width:5}},
      axisLabel:{show:false}, splitLine:{show:false}, minorSplitLine:{show:false}},
    {gridIndex:2, type:'value', min:0, max:5.5, show:false, splitLine:{show:false}}
  ],
  graphic:[
    {type:'circle', shape:{cx:695, cy:490, r:354}, style:{fill:null, stroke:BLACK, lineWidth:5}, silent:true, z:1},
    txt(360,195,'a','bold 130px '+FONT,BLACK),
    txt(1615,184,'b','bold 130px '+FONT,BLACK),
    txt(965,1005,'\u03b1','bold 110px "Liberation Serif", serif',BLACK,'center'),
    txt(751,1617,'\u03b2','95px '+FONT,GREEN),
    txt(805,1670,'1','bold 60px '+FONT,GREEN),
    txt(1222,1443,'\u03b2','95px '+FONT,BLUE),
    txt(1282,1497,'2','bold 60px '+FONT,BLUE),
    txt(1366,1679,'\u03b2','95px '+FONT,RED),
    txt(1426,1733,'3','bold 60px '+FONT,RED),
    txt(547,399,'\u03b1','48px "Liberation Serif", serif',BLACK,'center'),
    txt(873,562,'\u03b2','48px '+FONT,GREEN),
    txt(903,590,'1','30px '+FONT,GREEN)
  ],
  series:series
};
chart.setOption(option);
</script></body></html>
